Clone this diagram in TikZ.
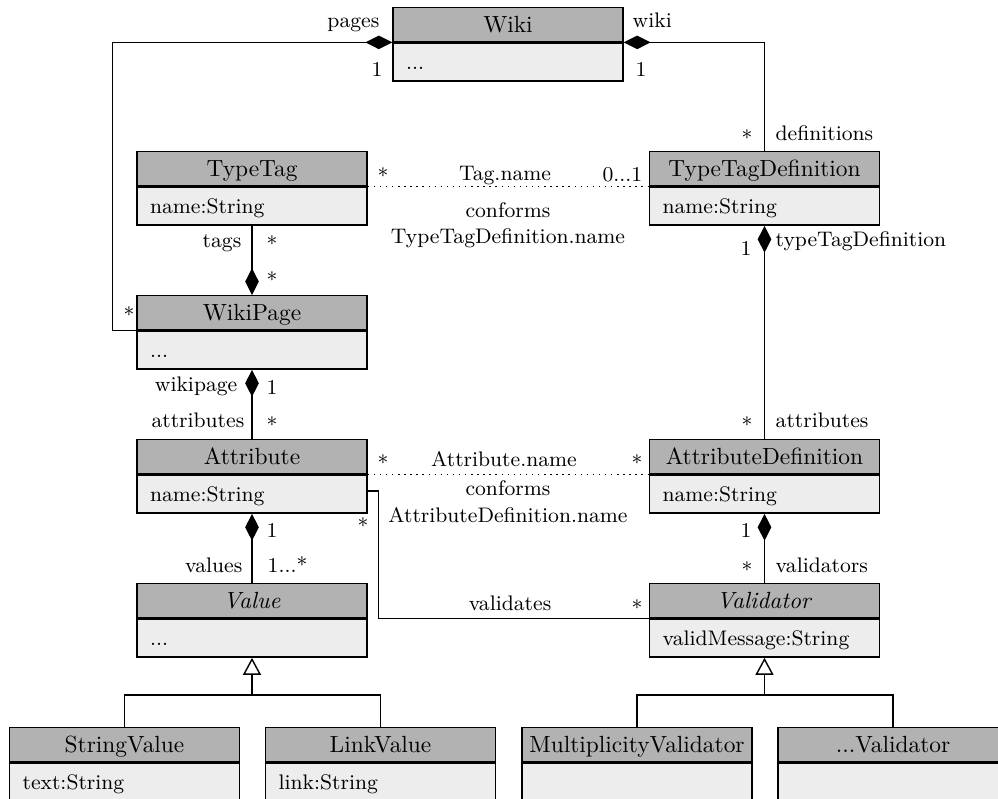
\documentclass[tikz,border=0pt]{standalone}
\usetikzlibrary{arrows.meta}
\definecolor{hdrfill}{gray}{0.70}
\definecolor{bdyfill}{gray}{0.93}
\begin{document}
\begin{tikzpicture}[x=0.4274pt,y=-0.4274pt,line width=0.6pt,
  classhead/.style={draw, fill=hdrfill, anchor=north, minimum width=98.3pt,
    minimum height=14.53pt, inner sep=0pt, text height=6.8pt, text depth=0pt},
  classbody/.style={draw, fill=bdyfill, anchor=north, minimum height=16.24pt,
    text width=87.1pt, inner xsep=5.6pt, inner ysep=0pt, align=left,
    font=\small, text height=6.2pt, text depth=0pt},
  lbl/.style={font=\small, inner sep=0pt},
  comp/.style={-{Diamond[length=11.5pt,width=5.8pt]}},
  inherit/.style={-{Triangle[open,length=7.3pt,width=7.7pt,fill=white]}},
  link/.style={dotted},
]
\useasboundingbox (0,0) rectangle (998,798);
\clip (0,0) rectangle (998,798);

% classes: header + compartment
\node[classhead] (wikiH) at (508,7) {Wiki};
\node[classbody] (wikiB) at (wikiH.south) {...};

\node[classhead] (typeTagH) at (252,151) {TypeTag};
\node[classbody] (typeTagB) at (typeTagH.south) {name:String};

\node[classhead] (ttdH) at (764.5,151) {TypeTagDefinition};
\node[classbody] (ttdB) at (ttdH.south) {name:String};

\node[classhead] (wikiPageH) at (252,295) {WikiPage};
\node[classbody] (wikiPageB) at (wikiPageH.south) {...};

\node[classhead] (attributeH) at (252,439) {Attribute};
\node[classbody] (attributeB) at (attributeH.south) {name:String};

\node[classhead] (attrDefH) at (764.5,439) {AttributeDefinition};
\node[classbody] (attrDefB) at (attrDefH.south) {name:String};

\node[classhead] (valueH) at (252,583) {\textit{Value}};
\node[classbody] (valueB) at (valueH.south) {...};

\node[classhead] (validatorH) at (764.5,583) {\textit{Validator}};
\node[classbody] (validatorB) at (validatorH.south) {validMessage:String};

\node[classhead] (stringValueH) at (124.5,727) {StringValue};
\node[classbody] (stringValueB) at (stringValueH.south) {text:String};

\node[classhead] (linkValueH) at (380.5,727) {LinkValue};
\node[classbody] (linkValueB) at (linkValueH.south) {link:String};

\node[classhead] (multValH) at (637,727) {MultiplicityValidator};
\node[classbody] (multValB) at (multValH.south) {};

\node[classhead] (otherValH) at (893,727) {...Validator};
\node[classbody] (otherValB) at (otherValH.south) {};

% associations
\draw[comp] (wikiPageH.south west) -- ++(-24,0) |- (wikiH.south west);
\draw[comp] (ttdH.north) |- (wikiH.south east);
\draw[comp] (typeTagB.south) -- (wikiPageH.north);
\draw[link] (typeTagH.south east) -- (ttdH.south west);
\draw[comp] (attrDefH.north) -- (ttdB.south);
\draw[comp] (attributeH.north) -- (wikiPageB.south);
\draw[link] (attributeH.south east) -- (attrDefH.south west);
\draw ([yshift=1.3pt]attributeB.east) -- ++(11,0) |- (validatorH.south west);
\draw[comp] (validatorH.north) -- (attrDefB.south);
\draw[comp] (valueH.north) -- (attributeB.south);

% generalisations
\path (valueB.south) ++(0,37) coordinate (valueJoin);
\draw (stringValueH.north) |- (valueJoin) -| (linkValueH.north);
\draw[inherit] (valueJoin) -- (valueB.south);
\path (validatorB.south) ++(0,37) coordinate (validatorJoin);
\draw (multValH.north) |- (validatorJoin) -| (otherValH.north);
\draw[inherit] (validatorJoin) -- (validatorB.south);

% role names and multiplicities
\node[lbl, anchor=base east] (lPages) at (380,27) {pages};
\node[lbl] (mPages) at (377,69) {1};
\node[lbl, anchor=base west] (lWiki) at (632,27) {wiki};
\node[lbl] (mWiki) at (641,69) {1};
\node[lbl] (mWikiPage) at (129,312) {$*$};
\node[lbl] (mDefs) at (747,135) {$*$};
\node[lbl, anchor=base west] (lDefs) at (775,140) {definitions};

\node[lbl] (mTagL) at (383,173) {$*$};
\node[lbl, anchor=base] (lTagName) at (505,180) {Tag.name};
\node[lbl, anchor=base east] (mTagR) at (643,181) {0...1};
\node[lbl, anchor=base] (lTagConf) at (508,217) {conforms};
\node[lbl, anchor=base] (lTagConf2) at (508,243) {TypeTagDefinition.name};

\node[lbl, anchor=base east] (lTags) at (242,247) {tags};
\node[lbl] (mTags) at (272,241) {$*$};
\node[lbl] (mTagsP) at (272,277) {$*$};

\node[lbl] (mTtd) at (746,248) {1};
\node[lbl, anchor=base west] (lTtd) at (775,246) {typeTagDefinition};
\node[lbl] (mAttrDefs) at (747,422) {$*$};
\node[lbl, anchor=base west] (lAttrDefs) at (775,427) {attributes};

\node[lbl, anchor=base east] (lWikipage) at (238,391) {wikipage};
\node[lbl] (mWikipage) at (272,387) {1};
\node[lbl, anchor=base east] (lAttrs) at (245,427) {attributes};
\node[lbl] (mAttrs) at (272,422) {$*$};

\node[lbl] (mAttrL) at (383,460) {$*$};
\node[lbl, anchor=base] (lAttrName) at (504,466) {Attribute.name};
\node[lbl] (mAttrR) at (637,460) {$*$};
\node[lbl, anchor=base] (lAttrConf) at (508,495) {conforms};
\node[lbl, anchor=base] (lAttrConf2) at (508,522) {AttributeDefinition.name};

\node[lbl] (mValidates) at (363,523) {$*$};
\node[lbl, anchor=base] (lValidates) at (510,610) {validates};
\node[lbl] (mValidatesR) at (637,605) {$*$};

\node[lbl] (mAttrVal) at (272,530) {1};
\node[lbl, anchor=base east] (lValues) at (243,572) {values};
\node[lbl, anchor=base west] (mValues) at (267,572) {1...*};

\node[lbl] (mAttrDefVal) at (746,530) {1};
\node[lbl] (mValidators) at (747,567) {$*$};
\node[lbl, anchor=base west] (lValidators) at (775,572) {validators};
\end{tikzpicture}
\end{document}
